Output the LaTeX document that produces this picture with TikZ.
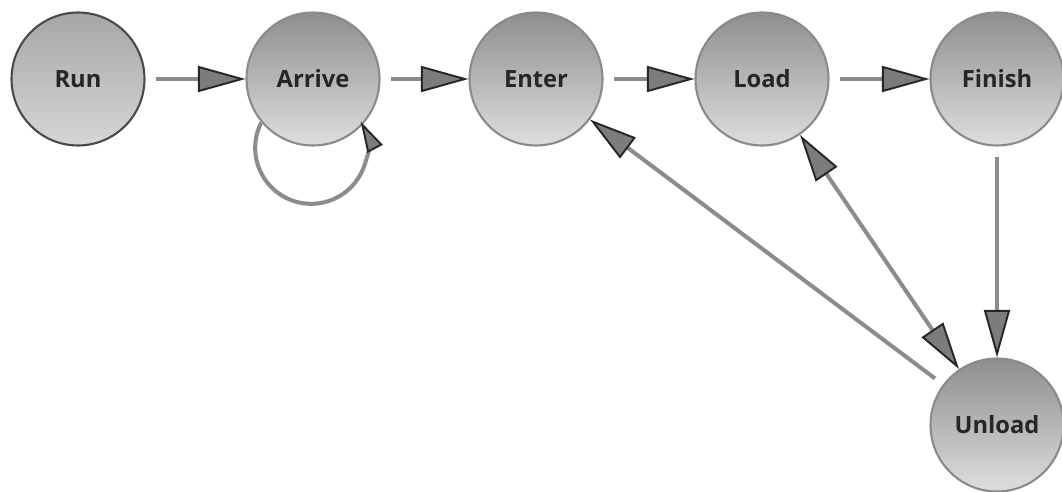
\documentclass[tikz,border=0pt]{standalone}
\usepackage{fontspec}
\setmainfont{Open Sans}
\usetikzlibrary{arrows.meta}
\definecolor{statetop}{HTML}{8E8E8E}
\definecolor{statebot}{HTML}{DEDEDE}
\definecolor{stateline}{HTML}{8A8A8A}
\definecolor{runtop}{HTML}{A6A6A6}
\definecolor{runbot}{HTML}{D6D6D6}
\definecolor{runline}{HTML}{4A4A4A}
\definecolor{edgegray}{HTML}{8C8C8C}
\definecolor{tipfill}{HTML}{7C7C7C}
\tikzset{
    state/.style={circle, minimum size=2.66cm, inner sep=0pt, draw=stateline, line width=1.2pt,
        top color=statetop, bottom color=statebot, font=\fontsize{13.5}{16}\selectfont\bfseries, text=black!85},
    startstate/.style={state, draw=runline, top color=runtop, bottom color=runbot},
    tip/.tip={Triangle[length=0.95cm, width=0.52cm, color=black!85, fill=tipfill, line width=1.1pt]},
    smalltip/.tip={Triangle[length=0.62cm, width=0.34cm, color=black!85, fill=tipfill, line width=1.1pt]},
    flow/.style={draw=edgegray, line width=2.3pt, -tip, shorten <=0.2cm}
}
\begin{document}
\begin{tikzpicture}[x=0.02cm, y=0.02cm]
            \useasboundingbox (0,0) rectangle (1062,491);
            \node[startstate] (run) at (78,412) {Run};
            \node[state] (arrive) at (313,412) {Arrive};
            \node[state] (enter) at (536,412) {Enter};
            \node[state] (load) at (762,412) {Load};
            \node[state] (finish) at (997,412) {Finish};
            \node[state] (unload) at (997,66) {Unload};
            \draw[flow] (run) -- (arrive);
            \draw[flow] (arrive) -- (enter);
            \draw[flow] (enter) -- (load);
            \draw[flow] (load) -- (finish);
            \draw[flow] (finish) -- (unload);
            \draw[flow] (unload) -- (enter);
            \draw[flow, tip-tip, shorten <=0pt] (load) -- (unload);
            \draw[flow, -smalltip, shorten <=0pt] (arrive.220) arc[start angle=153, end angle=388, radius=56];
        \end{tikzpicture}
\end{document}
